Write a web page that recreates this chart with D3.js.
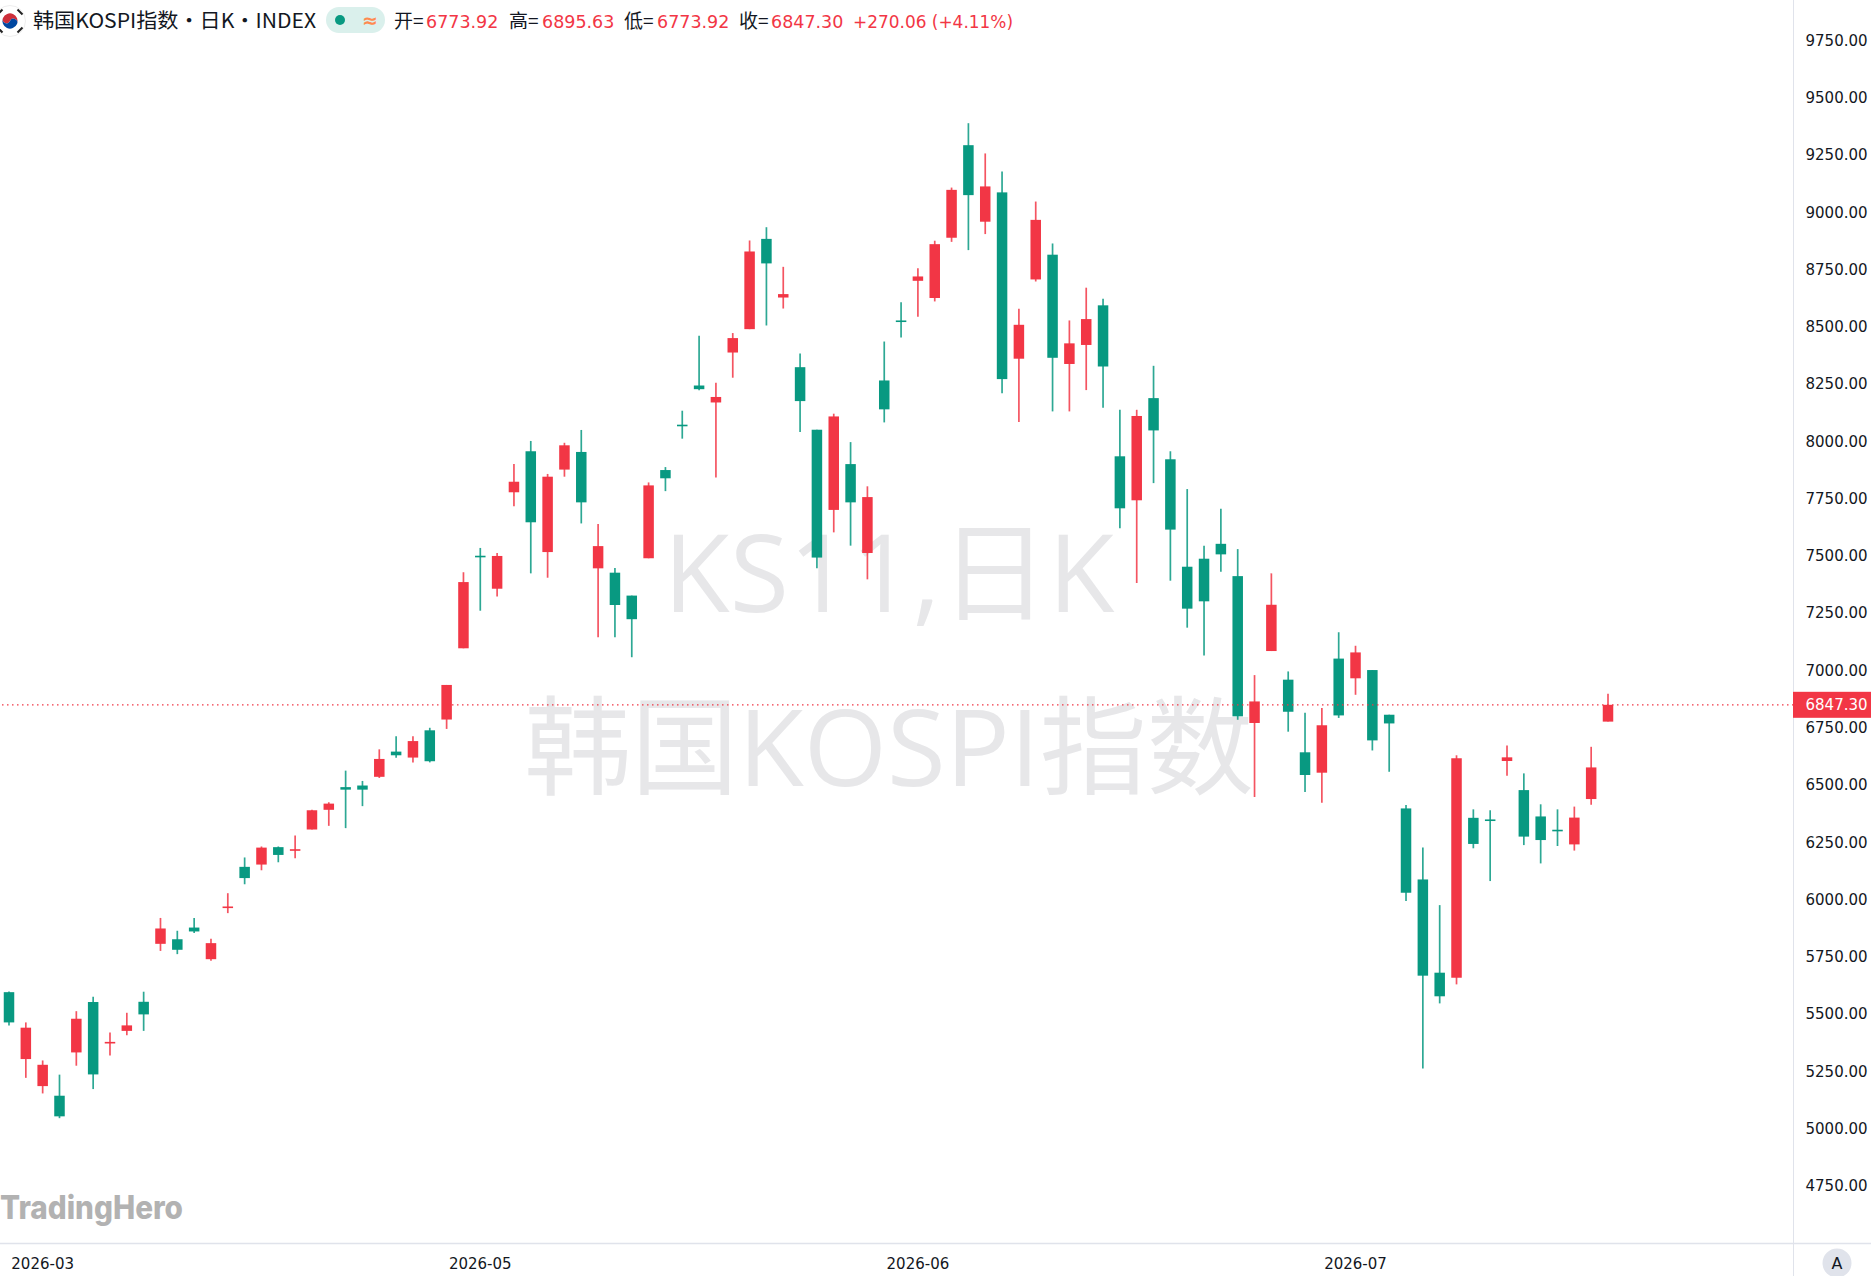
<!DOCTYPE html>
<html><head><meta charset="utf-8">
<script src="https://cdn.jsdelivr.net/npm/d3@7"></script>
<style>html,body{margin:0;padding:0;background:#fff;overflow:hidden}svg{display:block}</style>
</head><body><div id="chart"></div>
<script>
const opens=[5593,5301,5183,5141,5330,5550,5371,5424,5551,5804,5824,5875,5737,5961,6140,6150,6226,6213,6303,6389,6488,6495,6533,6643,6617,6736,6783,7094,7498,7354,7775,7954,7514,7874,7951,7443,7424,7324,7487,7872,8070,8241,8167,8385,8487,8881,8625,8321,8048,7698,7898,7510,8263,8525,8698,8623,8886,9290,8956,9084,8358,8704,8812,8335,8418,8591,7932,7740,8186,7919,7450,7485,7550,7409,6768,7082,6957,6640,6551,7049,6963,6999,6804,6395,6085,5678,5656,6354,6347,6602,6475,6360,6302,6238,6436,6773.92];
const closes=[5461,5438,5276,5051,5477,5234,5376,5448,5496,5871,5778,5858,5807,5967,6091,6224,6192,6217,6387,6416,6477,6477,6611,6627,6689,6601,6934,7383,7491,7497,7821,7644,7843,7980,7731,7540,7283,7221,7805,7836,8065,8225,8191,8448,8826,8774,8640,8173,7490,8106,7731,7754,8137,8521,8717,8858,9095,9072,9110,8269,8506,8964,8362,8425,8531,8324,7705,8108,8045,7612,7267,7299,7504,6797,6862,7284,6817,6541,6758,6801,7076,6692,6766,6027,5665,5575,6614,6240,6344,6618,6272,6257,6299,6355,6574,6847.30];
const highs=[5596,5461,5295,5233,5510,5573,5417,5503,5595,5917,5861,5917,5826,6025,6181,6229,6229,6277,6389,6422,6560,6515,6653,6710,6710,6747,6934,7426,7532,7510,7898,7999,7855,7991,8047,7636,7444,7324,7818,7885,8131,8458,8253,8470,8874,8932,8759,8381,8048,8118,7994,7801,8433,8604,8753,8873,9105,9386,9254,9175,8576,9044,8861,8525,8668,8620,8135,8135,8327,7954,7789,7542,7703,7527,6977,7421,6993,6813,6833,7164,7105,6999,6804,6410,6225,5973,6627,6391,6387,6670,6548,6413,6391,6403,6664,6895.63];
const lows=[5448,5219,5151,5043,5272,5170,5317,5405,5424,5773,5759,5851,5730,5938,6064,6125,6160,6178,6303,6319,6309,6405,6528,6616,6596,6596,6742,7094,7258,7320,7714,7421,7402,7843,7639,7142,7142,7055,7487,7780,8009,8220,7840,8275,8487,8503,8577,8038,7443,7600,7542,7395,8080,8451,8541,8608,8868,8832,8902,8207,8082,8695,8128,8128,8221,8144,7618,7379,7815,7389,7184,7062,7428,6782,6445,7082,6730,6467,6420,6790,6891,6648,6555,5991,5260,5544,5627,6221,6078,6538,6235,6155,6231,6211,6411,6773.92];
const priceTicks=[9750,9500,9250,9000,8750,8500,8250,8000,7750,7500,7250,7000,6750,6500,6250,6000,5750,5500,5250,5000,4750];
const dateTickIndex=[2,28,54,80];
const dateTickLabels=["2026-03","2026-05","2026-06","2026-07"];
const lastPrice=6847.30;
const titleText="韩国KOSPI指数・日K・INDEX";
const legendParts=[["开=","6773.92"],["高=","6895.63"],["低=","6773.92"],["收=","6847.30"]];
const changeText="+270.06 (+4.11%)";
const watermarkLines=["KS11,日K","韩国KOSPI指数"];

const W=1871,H=1276,UP="#F23645",DOWN="#089981",BORDER="#e0e3eb",INK="#131722";
const AXF='"DejaVu Sans",sans-serif', CJK='"Noto Sans CJK SC","Noto Sans",sans-serif';
const WMF='"Open Sans","Noto Sans CJK SC",sans-serif';
const paneR=1793, paneB=1243;
const svg=d3.select("#chart").append("svg").attr("width",W).attr("height",H).attr("viewBox",`0 0 ${W} ${H}`);
svg.append("rect").attr("width",W).attr("height",H).attr("fill","#fff");
const x=d3.scaleLinear().domain([0,opens.length-1]).range([9,1608]);
const y=d3.scaleLinear().domain([9750,4750]).range([39.8,1185.3]);

// watermark
svg.selectAll("text.wm").data(watermarkLines).join("text").attr("class","wm")
  .attr("x",889).attr("y",(d,i)=>i?786:612).attr("text-anchor","middle")
  .attr("font-family",WMF).attr("font-size",(d,i)=>i?107:108).attr("fill","#e7e7e9").text(d=>d);

// panes
svg.append("line").attr("x1",paneR+.5).attr("x2",paneR+.5).attr("y1",0).attr("y2",H).attr("stroke",BORDER).attr("stroke-width",1);
svg.append("line").attr("x1",0).attr("x2",W).attr("y1",paneB+.5).attr("y2",paneB+.5).attr("stroke",BORDER).attr("stroke-width",1.5);

// candles
const candles=opens.map((o,i)=>({i,o,c:closes[i],h:highs[i],l:lows[i]}));
const g=svg.append("g").selectAll("g").data(candles).join("g");
g.append("line").attr("x1",d=>x(d.i)).attr("x2",d=>x(d.i)).attr("y1",d=>y(d.h)).attr("y2",d=>y(d.l))
  .attr("stroke",d=>d.c>=d.o?UP:DOWN).attr("stroke-width",1.7).attr("stroke-opacity",.85);
g.append("rect").attr("x",d=>x(d.i)-5.25).attr("width",10.5)
  .attr("y",d=>y(Math.max(d.o,d.c))).attr("height",d=>Math.max(1.6,Math.abs(y(d.o)-y(d.c))))
  .attr("fill",d=>d.c>=d.o?UP:DOWN);

// last price line + label
svg.append("line").attr("x1",2).attr("x2",paneR).attr("y1",y(lastPrice)).attr("y2",y(lastPrice))
  .attr("stroke",UP).attr("stroke-width",1.2).attr("stroke-dasharray","1.5 3.5");

// axes
const yAxis=d3.axisRight(y).tickValues(priceTicks).tickSize(0).tickPadding(0).tickFormat(d3.format(".2f"));
const ya=svg.append("g").attr("transform",`translate(${paneR+12.5},0)`).call(yAxis);
ya.select(".domain").remove();
ya.selectAll("text").attr("font-family",AXF).attr("font-size",15).attr("fill",INK).attr("dy",".36em");
const xAxis=d3.axisBottom(x).tickValues(dateTickIndex).tickSize(0).tickPadding(0).tickFormat((d,i)=>dateTickLabels[i]);
const xa=svg.append("g").attr("transform",`translate(-0.5,1264)`).call(xAxis);
xa.select(".domain").remove();
xa.selectAll("text").attr("font-family",AXF).attr("font-size",15).attr("fill",INK).attr("dy",".36em");

svg.append("rect").attr("x",paneR).attr("y",y(lastPrice)-13).attr("width",W-paneR).attr("height",26).attr("fill",UP);
svg.append("text").attr("x",paneR+12.5).attr("y",y(lastPrice)).attr("dy",".36em").attr("font-family",AXF).attr("font-size",15).attr("fill","#fff").text(d3.format(".2f")(lastPrice));

// A button
svg.append("circle").attr("cx",1837).attr("cy",1263).attr("r",14.5).attr("fill",BORDER);
svg.append("text").attr("x",1837).attr("y",1263).attr("dy",".36em").attr("text-anchor","middle").attr("font-family",AXF).attr("font-size",16).attr("fill",INK).text("A");

// logo
svg.append("text").attr("x",0).attr("y",1219).attr("font-family","Inter,sans-serif").attr("font-weight",800).attr("font-size",32)
  .attr("textLength",183).attr("lengthAdjust","spacingAndGlyphs").attr("fill","#b2b2b2").text("TradingHero");

// flag
const fl=svg.append("g").attr("transform","translate(10,21)");
fl.append("circle").attr("r",15.5).attr("fill","#fff").attr("stroke","#eee");
fl.append("path").attr("d","M-7,-3 A7.6,7.6 0 0 1 7,3 A3.8,3.8 0 0 0 0,0 A3.8,3.8 0 0 1 -7,-3Z").attr("fill","#cd2e3a");
fl.append("path").attr("d","M-7,-3 A3.8,3.8 0 0 0 0,0 A3.8,3.8 0 0 1 7,3 A7.6,7.6 0 0 1 -7,-3Z").attr("fill","#0047a0");
[[-10,-9],[10,-9],[-10,9],[10,9]].forEach(([a,b])=>fl.append("line").attr("x1",a-2.5).attr("y1",b+(a*b>0?2.5:-2.5)).attr("x2",a+2.5).attr("y2",b-(a*b>0?2.5:-2.5)).attr("stroke","#222").attr("stroke-width",2));

// header
svg.append("text").attr("x",33).attr("y",28).attr("font-family",CJK).attr("font-size",20).attr("fill",INK).attr("textLength",283).attr("lengthAdjust","spacingAndGlyphs").text(titleText);
svg.append("rect").attr("x",326).attr("y",7).attr("width",59).attr("height",26).attr("rx",13).attr("fill","#daf0ec");
svg.append("circle").attr("cx",340).attr("cy",20).attr("r",5).attr("fill",DOWN);
svg.append("text").attr("x",370).attr("y",27).attr("text-anchor","middle").attr("font-family",AXF).attr("font-size",19).attr("font-weight",700).attr("fill","#ff8a50").text("≈");
const lx=[394,509,624,739], vx=[426,542,657,771];
legendParts.forEach(([a,b],i)=>{
  svg.append("text").attr("x",lx[i]).attr("y",28).attr("font-family",CJK).attr("font-size",19).attr("fill",INK).text(a);
  svg.append("text").attr("x",vx[i]).attr("y",28).attr("font-family",AXF).attr("font-size",17.5).attr("fill",UP).text(b);
});
svg.append("text").attr("x",853).attr("y",28).attr("font-family",AXF).attr("font-size",17.5).attr("fill",UP).attr("textLength",160).attr("lengthAdjust","spacingAndGlyphs").text(changeText);
</script></body></html>
